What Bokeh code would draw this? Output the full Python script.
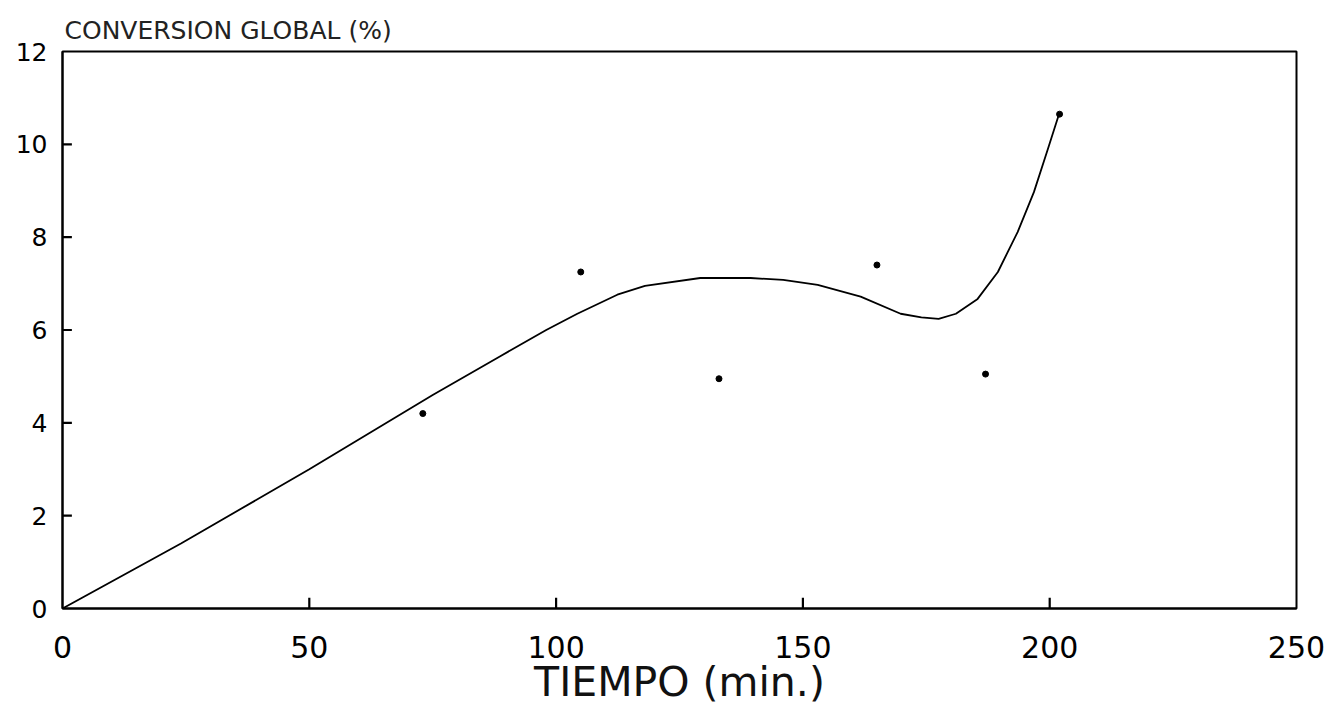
from bokeh.plotting import figure
from bokeh.models import FixedTicker, Range1d
from bokeh.embed import file_html
from bokeh.resources import INLINE

# ---- data ----
curve_x = [0, 24, 50, 75, 88.6, 98, 104.3, 112.4, 118, 129.2, 139.4, 146, 153,
           161.7, 169.8, 174, 177.5, 181, 185.4, 189.5, 193.5, 196.8, 199.6, 201.8]
curve_y = [0, 1.4, 3.0, 4.6, 5.43, 6.0, 6.35, 6.76, 6.95, 7.12, 7.12, 7.08, 6.97,
           6.72, 6.35, 6.27, 6.24, 6.35, 6.67, 7.25, 8.11, 8.97, 9.89, 10.62]

pts_x = [73, 105, 133, 165, 187, 202]
pts_y = [4.2, 7.25, 4.95, 7.4, 5.05, 10.65]

x_ticks = [0, 50, 100, 150, 200, 250]
y_ticks = [0, 2, 4, 6, 8, 10, 12]

title_text = "CONVERSION GLOBAL (%)"
x_label = "TIEMPO (min.)"

FONT = "DejaVu Sans"

p = figure(width=1334, height=713, output_backend="svg", toolbar_location=None,
           x_range=Range1d(0, 250), y_range=Range1d(0, 12),
           min_border_left=62, min_border_right=38, min_border_top=51,
           min_border_bottom=105, title=title_text)

p.background_fill_color = "white"
p.border_fill_color = "white"
p.grid.visible = False
p.outline_line_color = "black"
p.outline_line_width = 2
p.outline_line_alpha = 1

p.title.text_font = FONT
p.title.text_font_size = "25px"
p.title.text_font_style = "normal"
p.title.text_color = "#222222"
p.title.align = "left"
p.title.vertical_align = "top"
p.title.offset = 2
p.title.standoff = 10

for ax in (p.xaxis[0], p.yaxis[0]):
    ax.axis_line_color = "black"
    ax.axis_line_width = 2
    ax.major_tick_line_color = "black"
    ax.major_tick_line_width = 2
    ax.major_tick_out = 0
    ax.major_tick_in = 0
    ax.minor_tick_line_color = None
    ax.major_label_text_font = FONT
    ax.major_label_text_color = "black"

p.xaxis.ticker = FixedTicker(ticks=x_ticks)
p.xaxis.major_label_text_font_size = "30px"
p.xaxis.major_label_standoff = 27
p.xaxis.axis_label = x_label
p.xaxis.axis_label_text_font = FONT
p.xaxis.axis_label_text_font_size = "41px"
p.xaxis.axis_label_text_font_style = "normal"
p.xaxis.axis_label_text_color = "#111111"
p.xaxis.axis_label_standoff = -3

p.yaxis.ticker = FixedTicker(ticks=y_ticks)
p.yaxis.major_label_text_font_size = "25px"
p.yaxis.major_label_standoff = 15

# inward tick marks drawn from the tick arrays (inside the frame)
xt_inner = x_ticks[1:-1]
p.multi_line(xs=[[t, t] for t in xt_inner], ys=[[0, 0.23] for t in xt_inner],
             line_color="black", line_width=2.2)
yt_inner = y_ticks[1:-1]
p.multi_line(xs=[[0, 1.9] for t in yt_inner], ys=[[t, t] for t in yt_inner],
             line_color="black", line_width=2.2)

p.line(curve_x, curve_y, line_color="black", line_width=1.8)
p.scatter(pts_x, pts_y, size=6, color="black")

open("out.html", "w").write(file_html(p, INLINE))
